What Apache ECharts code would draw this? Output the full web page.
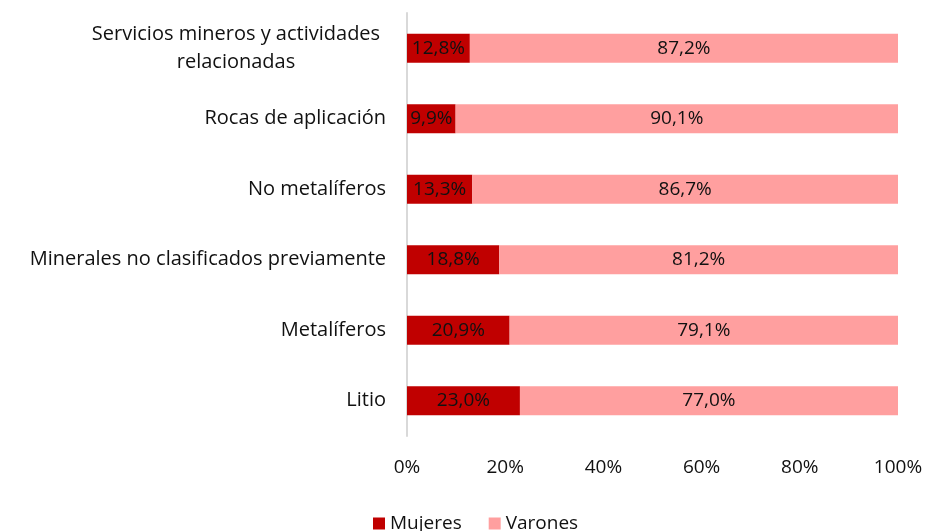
<!DOCTYPE html>
<html>
<head>
<meta charset="utf-8">
<script src="https://cdn.jsdelivr.net/npm/echarts@6/dist/echarts.min.js"></script>
<style>
  html, body { margin: 0; padding: 0; background: #fff; }
  #main { width: 930px; height: 531px; }
</style>
</head>
<body>
<div id="main"></div>
<script>
// categories from bottom to top
const categories = ['Litio', 'Metalíferos', 'Minerales no clasificados previamente', 'No metalíferos', 'Rocas de aplicación', 'Servicios mineros y actividades\nrelacionadas'];
const mujeres = [23.0, 20.9, 18.8, 13.3, 9.9, 12.8];
const varones = [77.0, 79.1, 81.2, 86.7, 90.1, 87.2];
const xTicks = [0, 20, 40, 60, 80, 100];

const font = '"Open Sans", sans-serif';
const fmt = p => p.value.toFixed(1).replace('.', ',') + '%';

const myChart = echarts.init(document.getElementById('main'));
myChart.setOption({
  animation: false,
  textStyle: { fontFamily: font },
  grid: { left: 407, right: 32, top: 13, bottom: 95, containLabel: false },
  legend: {
    top: 509,
    left: 368,
    itemWidth: 12,
    itemHeight: 12,
    itemGap: 27,
    icon: 'rect',
    textStyle: { fontSize: 19, color: '#111', fontFamily: font },
    data: ['Mujeres', 'Varones']
  },
  xAxis: {
    type: 'value',
    min: 0,
    max: 100,
    interval: 20,
    axisLine: { show: false },
    axisTick: { show: false },
    splitLine: { show: false },
    axisLabel: {
      margin: 22,
      fontSize: 19,
      color: '#111',
      formatter: v => xTicks.includes(v) ? v + '%' : ''
    }
  },
  yAxis: {
    type: 'category',
    data: categories,
    axisLine: { show: true, lineStyle: { color: '#d9d9d9', width: 2 } },
    axisTick: { show: false },
    axisLabel: {
      margin: 21,
      fontSize: 20,
      color: '#111',
      lineHeight: 28,
      formatter: v => v.includes('\n')
        ? v.split('\n').map(s => '{c|' + s + '}').join('\n')
        : v,
      rich: {
        c: { width: 300, align: 'center', fontSize: 20, color: '#111', lineHeight: 28, fontFamily: font }
      }
    }
  },
  series: [
    {
      name: 'Mujeres',
      type: 'bar',
      stack: 'total',
      barWidth: '41%',
      itemStyle: { color: '#c00000' },
      label: { show: true, position: 'inside', color: '#111', fontSize: 19, formatter: fmt },
      data: mujeres
    },
    {
      name: 'Varones',
      type: 'bar',
      stack: 'total',
      itemStyle: { color: '#ff9f9f' },
      label: { show: true, position: 'inside', color: '#111', fontSize: 19, formatter: fmt },
      data: varones
    }
  ]
});
</script>
</body>
</html>
